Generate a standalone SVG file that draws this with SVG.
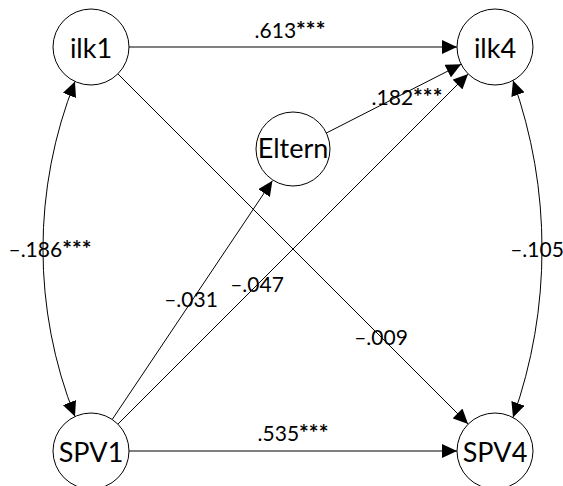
<svg xmlns="http://www.w3.org/2000/svg" width="563" height="486" viewBox="0 0 563 486">
<style>
.node circle{fill:#fff;stroke:#000;stroke-width:1}
.node text{font-family:Lato,"Open Sans","Liberation Sans",sans-serif;font-size:27px;fill:#000;text-anchor:middle}
.edges path{fill:none;stroke:#000;stroke-width:1}
.lbl{font-family:Lato,"Open Sans","Liberation Sans",sans-serif;font-size:21px;fill:#000;text-anchor:middle}
.st{font-size:23px;font-weight:bold}
</style>
<defs>
<marker id="ah" markerWidth="15" markerHeight="14" refX="15" refY="7" orient="auto" markerUnits="userSpaceOnUse"><path d="M0,0 L15,7 L0,14 z" fill="#000"/></marker>
<marker id="ah2" markerWidth="15" markerHeight="14" refX="15" refY="7" orient="auto-start-reverse" markerUnits="userSpaceOnUse"><path d="M0,0 L15,7 L0,14 z" fill="#000"/></marker>
</defs>
<rect width="563" height="486" fill="#fff"/>
<g class="edges" id="connectors">
<path d="M129,47 H457" marker-end="url(#ah)"/>
<path d="M129,451 H457" marker-end="url(#ah)"/>
<path d="M117.9,73.9 L468.1,424.1" marker-end="url(#ah)"/>
<path d="M117.9,424.1 L468.1,73.9" marker-end="url(#ah)"/>
<path d="M112.2,419.5 L272.4,180.7" marker-end="url(#ah)"/>
<path d="M326,133.2 L461.1,64.3" marker-end="url(#ah)"/>
<path d="M75,81.5 A454 454 0 0 0 75,416.5" marker-start="url(#ah2)" marker-end="url(#ah2)"/>
<path d="M513,80.5 A504 504 0 0 1 513,417.5" marker-start="url(#ah2)" marker-end="url(#ah2)"/>
</g>
<g id="labels">
<text class="lbl" x="290" y="38">.613<tspan class="st">***</tspan></text>
<text class="lbl" x="407" y="105">.182<tspan class="st">***</tspan></text>
<text class="lbl" x="50" y="257">–.186<tspan class="st">***</tspan></text>
<text class="lbl" x="537" y="257">–.105</text>
<text class="lbl" x="191" y="307">–.031</text>
<text class="lbl" x="257" y="292">–.047</text>
<text class="lbl" x="381" y="345">–.009</text>
<text class="lbl" x="293" y="441">.535<tspan class="st">***</tspan></text>
</g>
<g class="node" id="ilk1"><circle cx="91" cy="47" r="38"/><text x="91" y="58">ilk1</text></g>
<g class="node" id="ilk4"><circle cx="495" cy="47" r="38"/><text x="495" y="58">ilk4</text></g>
<g class="node" id="Eltern"><circle cx="293" cy="149" r="37"/><text x="293" y="158">Eltern</text></g>
<g class="node" id="SPV1"><circle cx="91" cy="451" r="38"/><text x="91" y="462">SPV1</text></g>
<g class="node" id="SPV4"><circle cx="495" cy="451" r="38"/><text x="495" y="462">SPV4</text></g>
</svg>
